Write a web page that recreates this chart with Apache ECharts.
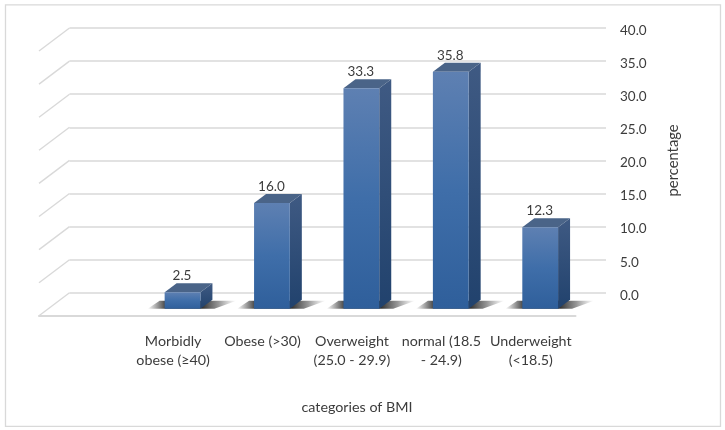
<!DOCTYPE html>
<html>
<head>
<meta charset="utf-8">
<style>html,body{margin:0;padding:0;background:#fff}#c{width:725px;height:430px}</style>
<script src="https://cdn.jsdelivr.net/npm/echarts@6/dist/echarts.min.js"></script>
</head>
<body>
<div id="c"></div>
<script>
const categories = ['', 'Morbidly\nobese (≥40)', 'Obese (>30)', 'Overweight\n(25.0 - 29.9)', 'normal (18.5\n- 24.9)', 'Underweight\n(<18.5)'];
const values = [null, 2.5, 16.0, 33.3, 35.8, 12.3];
const yTicks = [0, 5, 10, 15, 20, 25, 30, 35, 40];
const yAxisTitle = 'percentage';
const xAxisTitle = 'categories of BMI';

const FONT = 'Lato';
const TEXT = '#3c3c3c';
const GRIDC = '#d9d9d9';
const WALL_DX = 30.5, WALL_DY = 23;
const BAR_DX = 12, BAR_DY = 9, BAR_SHIFT_X = 9.4, BAR_SHIFT_Y = 7;

function poly(points, fill) {
  return { type: 'polygon', shape: { points: points }, style: { fill: fill } };
}
function grad(x, y, x2, y2, stops) {
  return new echarts.graphic.LinearGradient(x, y, x2, y2, stops);
}
function renderBar(params, api) {
  const v = api.value(1), top = api.coord([api.value(0), v]), base = api.coord([api.value(0), 0]);
  const w = api.size([1, 0])[0] * 0.4;
  const x0 = top[0] - w / 2 + BAR_SHIFT_X, x1 = x0 + w;
  const yt = top[1] - BAR_SHIFT_Y, yb = base[1] - BAR_SHIFT_Y;
  return { type: 'group', children: [
    poly([[x0 - 17, yb], [x0 - 5, yb - 8], [x1 + 36, yb - 8], [x1 + 14, yb]],
      grad(0, 0, 1, 0, [
        { offset: 0, color: 'rgba(70,70,70,0)' },
        { offset: 0.2, color: 'rgba(60,60,60,0.95)' },
        { offset: 0.62, color: 'rgba(50,50,50,0.98)' },
        { offset: 0.8, color: 'rgba(80,80,80,0.6)' },
        { offset: 1, color: 'rgba(120,120,120,0)' }])),
    poly([[x1, yt], [x1 + BAR_DX, yt - BAR_DY], [x1 + BAR_DX, yb - BAR_DY], [x1, yb]],
      grad(0, 0, 0, 1, [{ offset: 0, color: '#3f5a83' }, { offset: 1, color: '#21426d' }])),
    poly([[x0, yt], [x0 + BAR_DX, yt - BAR_DY], [x1 + BAR_DX, yt - BAR_DY], [x1, yt]], '#4a6488'),
    { type: 'rect', shape: { x: x0, y: yt, width: w, height: yb - yt },
      style: { fill: grad(0, 0, 0, 1, [{ offset: 0, color: '#5e80b2' }, { offset: 0.5, color: '#3f6ea9' }, { offset: 1, color: '#2f5f9b' }]) } },
    { type: 'text', style: { text: v.toFixed(1), x: (x0 + x1) / 2 - 0.5, y: yt - 16.5, align: 'center', verticalAlign: 'middle',
      font: '13.5px ' + FONT, fill: TEXT } }
  ] };
}
function renderWallEdge(params, api) {
  const p = api.coord([0, api.value(0)]);
  const x = p[0] - api.size([1, 0])[0] / 2;
  return { type: 'line', shape: { x1: x - WALL_DX, y1: p[1] + WALL_DY, x2: x, y2: p[1] },
    style: { stroke: GRIDC, lineWidth: 1.4 } };
}

const chart = echarts.init(document.getElementById('c'), null, { renderer: 'canvas' });
chart.setOption({
  animation: false,
  backgroundColor: '#fff',
  title: { text: xAxisTitle, left: 352, top: 395, textAlign: 'center',
    textStyle: { fontFamily: FONT, fontSize: 14.3, fontWeight: 'normal', color: TEXT } },
  graphic: [{ type: 'rect', shape: { x: 5.5, y: 4.8, width: 715, height: 421.5 }, silent: true, z: -10,
    style: { fill: 'none', stroke: GRIDC, lineWidth: 1.3 } }],
  grid: [
    { left: 69.5, width: 536.5, top: 28, height: 264.8 },
    { left: 39, width: 536.5, top: 51, height: 264.8 }
  ],
  xAxis: [
    { gridIndex: 0, type: 'category', data: categories, show: false },
    { gridIndex: 1, type: 'category', data: categories, position: 'bottom',
      axisLine: { lineStyle: { color: GRIDC, width: 2 } }, axisTick: { show: false },
      axisLabel: { interval: 0, margin: 16, lineHeight: 19, color: TEXT, fontFamily: FONT, fontSize: 14.3 } }
  ],
  yAxis: [
    { gridIndex: 0, type: 'value', position: 'right', min: 0, max: 40, interval: 5,
      axisLine: { show: false }, axisTick: { show: false },
      splitLine: { lineStyle: { color: GRIDC, width: 1.5 } },
      axisLabel: { margin: 14, verticalAlign: 'top', lineHeight: 5, color: TEXT, fontFamily: FONT, fontSize: 13.5, formatter: v => v.toFixed(1) },
      name: yAxisTitle, nameLocation: 'middle', nameRotate: 90, nameGap: 60,
      nameTextStyle: { color: TEXT, fontFamily: FONT, fontSize: 14.8 } },
    { gridIndex: 1, type: 'value', min: 0, max: 40, interval: 5, show: false }
  ],
  series: [
    { type: 'custom', xAxisIndex: 0, yAxisIndex: 0, renderItem: renderWallEdge, silent: true, z: 1,
      data: yTicks.map(t => [t]), encode: { y: 0 } },
    { type: 'custom', xAxisIndex: 1, yAxisIndex: 1, renderItem: renderBar, silent: true, z: 5,
      data: values.map((v, i) => [i, v]).filter(d => d[1] !== null), encode: { x: 0, y: 1 } }
  ]
});
</script>
</body>
</html>
